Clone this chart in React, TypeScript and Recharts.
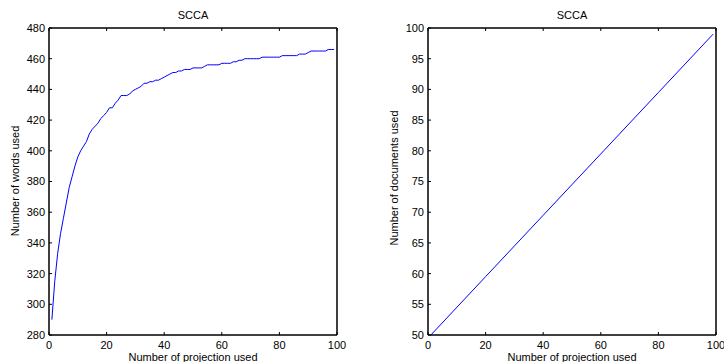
import React from "react";
import { LineChart, Line, XAxis, YAxis, ReferenceArea, Customized } from "recharts";

// left panel: words used per number of projections
const projections = Array.from({ length: 99 }, (_, i) => i + 1);
const wordsUsed = [
  290, 315, 333, 346, 356, 366, 376, 383, 390, 396,
  400, 403, 406, 411, 414, 416, 418, 421, 423, 425,
  428, 428, 431, 433, 436, 436, 436, 437, 439, 440,
  441, 442, 444, 444, 445, 445, 446, 446, 447, 448,
  449, 450, 451, 451, 452, 452, 453, 453, 453, 454,
  454, 454, 454, 455, 456, 456, 456, 456, 456, 457,
  457, 457, 457, 458, 458, 459, 459, 460, 460, 460,
  460, 460, 460, 461, 461, 461, 461, 461, 461, 461,
  462, 462, 462, 462, 462, 462, 463, 463, 463, 464,
  465, 465, 465, 465, 465, 465, 466, 466, 466
];

// right panel: documents used (straight line)
const docProjections = [1, 20, 40, 60, 80, 99];
const documentsUsed = [50, 59.5, 69.5, 79.5, 89.5, 99];

const xTicks = [0, 20, 40, 60, 80, 100];
const wordTicks = [280, 300, 320, 340, 360, 380, 400, 420, 440, 460, 480];
const docTicks = [50, 55, 60, 65, 70, 75, 80, 85, 90, 95, 100];

const wordData = projections.map((x, i) => ({ x, y: wordsUsed[i] }));
const docData = docProjections.map((x, i) => ({ x, y: documentsUsed[i] }));

const FONT = "'Liberation Sans', Arial, sans-serif";
const tickStyle = { fontSize: 11, fill: "#000", fontFamily: FONT };
const blank = () => "";

type PanelProps = {
  data: { x: number; y: number }[];
  yDomain: [number, number];
  yTicks: number[];
  yLabel: string;
  left: number;
  right: number;
  yLabelX: number;
  yLabelY: number;
};

const Panel = ({ data, yDomain, yTicks, yLabel, left, right, yLabelX, yLabelY }: PanelProps) => {
  const plotCenter = left + (362 - left - right) / 2;
  const Texts = () => (
    <g style={{ fontFamily: FONT, fontSize: 11 }} fill="#000">
      <text x={plotCenter} y={19} textAnchor="middle">SCCA</text>
      <text x={plotCenter} y={361} textAnchor="middle">Number of projection used</text>
      <text
        x={yLabelX}
        y={yLabelY}
        textAnchor="middle"
        dominantBaseline="central"
        transform={`rotate(-90, ${yLabelX}, ${yLabelY})`}
      >
        {yLabel}
      </text>
    </g>
  );
  return (
    <LineChart
      width={362}
      height={362}
      data={data}
      margin={{ top: 27, right: right - 1, bottom: 0, left: 0 }}
    >
      <XAxis
        dataKey="x"
        type="number"
        domain={[0, 100]}
        ticks={xTicks}
        height={27}
        tickSize={-3}
        tickMargin={9}
        tick={tickStyle}
        stroke="#000"
        interval={0}
      />
      <XAxis
        xAxisId="top"
        orientation="top"
        dataKey="x"
        type="number"
        domain={[0, 100]}
        ticks={xTicks}
        height={1}
        tickSize={-3}
        tickMargin={0}
        tickFormatter={blank}
        stroke="#000"
        interval={0}
      />
      <YAxis
        type="number"
        domain={yDomain}
        ticks={yTicks}
        width={left}
        tickSize={-3}
        tickMargin={7}
        tick={tickStyle}
        stroke="#000"
        interval={0}
      />
      <YAxis
        yAxisId="right"
        orientation="right"
        type="number"
        domain={yDomain}
        ticks={yTicks}
        width={1}
        tickSize={-3}
        tickMargin={0}
        tickFormatter={blank}
        stroke="#000"
        interval={0}
      />
      <ReferenceArea
        x1={0}
        x2={100}
        y1={yDomain[0]}
        y2={yDomain[1]}
        fill="none"
        fillOpacity={0}
        stroke="#000"
        strokeWidth={1}
        ifOverflow="visible"
      />
      <Line
        type="linear"
        dataKey="y"
        stroke="#0000ff"
        strokeWidth={1}
        dot={false}
        isAnimationActive={false}
      />
      <Customized component={Texts} />
    </LineChart>
  );
};

const App: React.FC = () => (
  <div style={{ position: "absolute", left: 0, top: 0, width: 724, height: 362, display: "flex", background: "#fff" }}>
    <Panel
      data={wordData}
      yDomain={[280, 480]}
      yTicks={wordTicks}
      yLabel="Number of words used"
      left={49}
      right={25}
      yLabelX={15}
      yLabelY={181}
    />
    <Panel
      data={docData}
      yDomain={[50, 100]}
      yTicks={docTicks}
      yLabel="Number of documents used"
      left={66}
      right={8}
      yLabelX={32}
      yLabelY={178}
    />
  </div>
);

export default App;
